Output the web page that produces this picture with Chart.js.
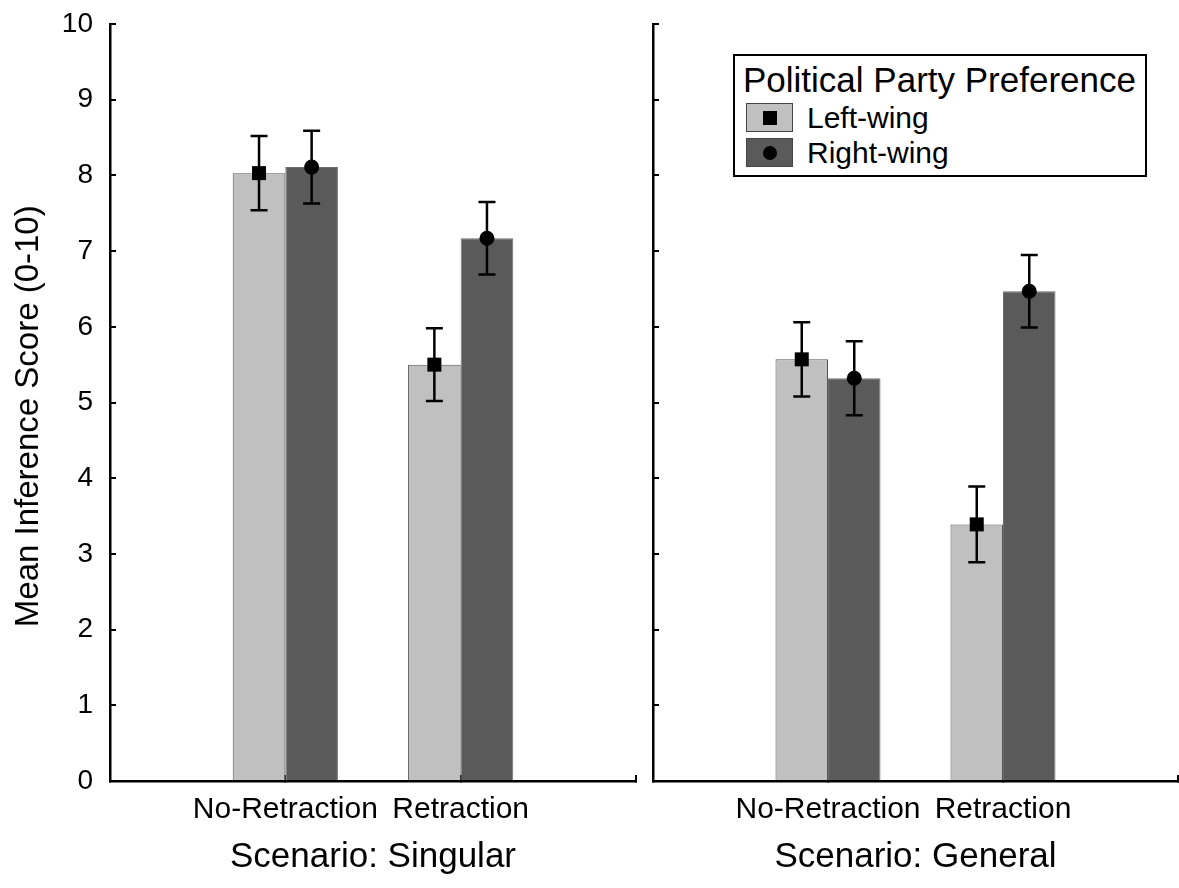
<!DOCTYPE html>
<html>
<head>
<meta charset="utf-8">
<script src="https://cdn.jsdelivr.net/npm/chart.js@4.4.1/dist/chart.umd.min.js"></script>
<style>
  body { margin: 0; background: #fff; }
  #wrap { position: relative; width: 1179px; height: 888px; font-family: "Liberation Sans", Arial, sans-serif; }
  canvas { position: absolute; top: 0; }
  #left { left: 0; }
  #right { left: 640px; }
  #legend { position: absolute; left: 733px; top: 54px; width: 414px; height: 123px; box-sizing: border-box;
            border: 2px solid #000; background: #fff; z-index: 2; }
  #legend .title { position: absolute; left: 8px; top: 6px; font-size: 35px; line-height: 35px; white-space: nowrap; }
  #legend .item { position: absolute; left: 11px; height: 29px; }
  #legend .sw { position: absolute; left: 0; top: 0; width: 47px; height: 29px; box-sizing: border-box; border: 1px solid #444; }
  #legend .mk { position: absolute; left: 16px; top: 7px; width: 14px; height: 14px; background: #000; }
  #legend .mk.round { border-radius: 50%; }
  #legend .txt { position: absolute; left: 61px; top: 0; font-size: 30px; line-height: 29px; white-space: nowrap; }
</style>
</head>
<body>
<div id="wrap">
  <canvas id="left" width="640" height="888"></canvas>
  <canvas id="right" width="539" height="888"></canvas>
  <div id="legend"></div>
</div>
<script>
const categories = ['No-Retraction', 'Retraction'];
const seriesNames = ['Left-wing', 'Right-wing'];
const seriesColors = ['#c0c0c0', '#5a5a5a'];
const seriesMarkers = ['rect', 'circle'];

const singularLeft = [8.03, 5.50];
const singularLeftErr = [0.49, 0.48];
const singularRight = [8.11, 7.17];
const singularRightErr = [0.48, 0.48];

const generalLeft = [5.57, 3.39];
const generalLeftErr = [0.49, 0.50];
const generalRight = [5.32, 6.47];
const generalRightErr = [0.49, 0.48];

const yMin = 0, yMax = 10, yStep = 1;
const yTitle = 'Mean Inference Score (0-10)';
const panelTitles = ['Scenario: Singular', 'Scenario: General'];
const legendTitle = 'Political Party Preference';

const FONT = '"Liberation Sans", Arial, sans-serif';

// empty slots either side so the two groups sit at 1/3 and 2/3 of the axis
const pad = arr => [null, ...arr, null];
const labels = ['', ...categories, ''];

// error bars + markers, drawn at each bar's own position
const errorBars = {
  id: 'errorBars',
  afterDatasetsDraw(chart) {
    const ctx = chart.ctx;
    const y = chart.scales.y;
    chart.data.datasets.forEach((ds, i) => {
      const meta = chart.getDatasetMeta(i);
      meta.data.forEach((bar, j) => {
        const v = ds.data[j];
        if (v == null) return;
        const e = ds.errors[j];
        const x = bar.x;
        const yHi = y.getPixelForValue(v + e);
        const yLo = y.getPixelForValue(v - e);
        const yv = y.getPixelForValue(v);
        ctx.save();
        ctx.strokeStyle = '#000';
        ctx.lineWidth = 2.5;
        ctx.beginPath();
        ctx.moveTo(x, yHi); ctx.lineTo(x, yLo);
        ctx.moveTo(x - 8.5, yHi); ctx.lineTo(x + 8.5, yHi);
        ctx.moveTo(x - 8.5, yLo); ctx.lineTo(x + 8.5, yLo);
        ctx.stroke();
        ctx.fillStyle = '#000';
        if (ds.marker === 'rect') {
          ctx.fillRect(x - 7, yv - 7, 14, 14);
        } else {
          ctx.beginPath();
          ctx.arc(x, yv, 7.5, 0, Math.PI * 2);
          ctx.fill();
        }
        ctx.restore();
      });
    });
  }
};

function makeChart(id, leftVals, leftErr, rightVals, rightErr, title, showY) {
  const vals = [leftVals, rightVals];
  const errs = [leftErr, rightErr];
  const datasets = seriesNames.map((name, k) => ({
    label: name,
    data: pad(vals[k]),
    errors: pad(errs[k]),
    marker: seriesMarkers[k],
    backgroundColor: seriesColors[k],
    borderColor: k === 0 ? '#555' : '#6e6e6e',
    borderWidth: 1,
    categoryPercentage: 0.6,
    barPercentage: 1.0
  }));

  return new Chart(document.getElementById(id), {
    type: 'bar',
    data: { labels, datasets },
    plugins: [errorBars],
    options: {
      responsive: false,
      animation: false,
      devicePixelRatio: 1,
      layout: { padding: { left: 0, top: 24, right: showY ? 4 : 1, bottom: 0 } },
      plugins: { legend: { display: false }, tooltip: { enabled: false } },
      scales: {
        x: {
          offset: false,
          z: 1,
          grid: { offset: false, drawOnChartArea: false, color: '#000', lineWidth: 2, tickLength: -6 },
          border: { color: '#000', width: 2.5 },
          ticks: { autoSkip: false, maxRotation: 0, padding: 17, color: '#000',
                   font: { family: FONT, size: 30 } },
          title: { display: true, text: title, color: '#000', padding: { top: 0, bottom: 10 },
                   font: { family: FONT, size: 35 } },
          afterFit: s => { s.height = 107; s.paddingLeft = 0; s.paddingRight = 0; }
        },
        y: {
          min: yMin, max: yMax,
          grid: { drawOnChartArea: false, color: '#000', lineWidth: 2, tickLength: -6 },
          border: { color: '#000', width: 2.5 },
          ticks: { display: showY, stepSize: yStep, padding: 23, color: '#000',
                   font: { family: FONT, size: 28 } },
          // trailing spaces nudge the rotated title down to where the original sits
          title: { display: showY, text: yTitle + '\u00a0\u00a0\u00a0', color: '#000', padding: { top: 9, bottom: 0 },
                   font: { family: FONT, size: 33 } },
          afterFit: s => { s.width = showY ? 110 : 13; s.paddingTop = 0; s.paddingBottom = 0; }
        }
      }
    }
  });
}

makeChart('left', singularLeft, singularLeftErr, singularRight, singularRightErr, panelTitles[0], true);
makeChart('right', generalLeft, generalLeftErr, generalRight, generalRightErr, panelTitles[1], false);

// legend box
const lg = document.getElementById('legend');
const t = document.createElement('div');
t.className = 'title';
t.textContent = legendTitle;
lg.appendChild(t);
seriesNames.forEach((name, k) => {
  const item = document.createElement('div');
  item.className = 'item';
  item.style.top = (47 + k * 35) + 'px';
  const sw = document.createElement('div');
  sw.className = 'sw';
  sw.style.background = seriesColors[k];
  const mk = document.createElement('div');
  mk.className = 'mk' + (seriesMarkers[k] === 'circle' ? ' round' : '');
  sw.appendChild(mk);
  const txt = document.createElement('div');
  txt.className = 'txt';
  txt.textContent = name;
  item.appendChild(sw);
  item.appendChild(txt);
  lg.appendChild(item);
});
</script>
</body>
</html>
